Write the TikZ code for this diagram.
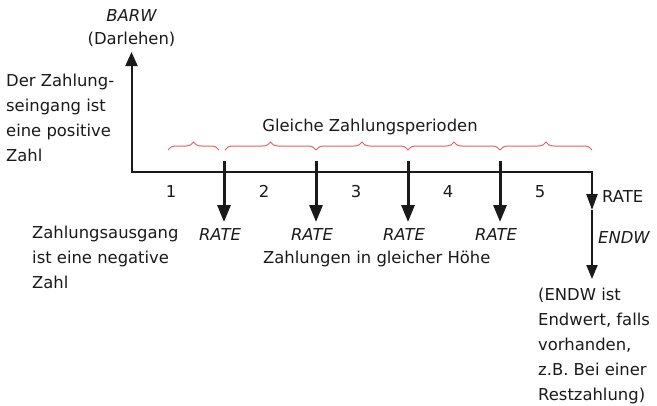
\documentclass[tikz,border=0pt]{standalone}
\usepackage{fontspec}
\setmainfont{DejaVu Sans}
\usetikzlibrary{arrows.meta,decorations.pathreplacing}
\definecolor{inkc}{HTML}{1A1A1A}
\definecolor{bracec}{HTML}{E06060}
\begin{document}
\begin{tikzpicture}[x=1pt,y=-1pt,
  lbl/.style={inner sep=0pt, font=\fontsize{16.4}{24.8}\selectfont, text=inkc, align=left},
  ilbl/.style={lbl, font=\fontsize{16.4}{24.8}\selectfont\itshape},
  axis/.style={draw=inkc, line width=2pt},
  pay/.style={draw=inkc, line width=3pt, -{Triangle[length=17pt,width=13pt]}},
  period/.style={draw=bracec, line width=1pt, decorate, decoration={brace, amplitude=8pt}}
]
\useasboundingbox (0,0) rectangle (657,405);
% axis points
\coordinate (top) at (131.5,52);
\coordinate (org) at (131.5,172);
\coordinate (endp) at (592,172);
\coordinate (rmid) at (592,210);
\coordinate (rend) at (592,279);
\draw[axis, {Triangle[length=14pt,width=12pt]}-{Triangle[length=16pt,width=11pt]}] (top) |- (endp) -- (rmid);
\draw[axis, -{Triangle[length=14pt,width=11pt]}] (rmid) -- (rend);
% payment arrows
\foreach \i/\x in {1/224,2/316,3/408,4/500}{
  \coordinate (p\i s) at (\x,161);
  \coordinate (p\i e) at (\x,222);
  \draw[pay] (p\i s) -- (p\i e);
}
% braces
\foreach \i/\a/\b in {1/168/219,2/225/316,3/316/408,4/408/500,5/500/592}{
  \coordinate (b\i a) at (\a,150);
  \coordinate (b\i b) at (\b,150);
  \draw[period] (b\i a) -- (b\i b);
}
% labels (multi-line nodes: base = baseline of last line)
\node[ilbl, anchor=base] (barw) at (131.5,21) {BARW};
\node[lbl, anchor=base] (darl) at (131.5,44) {(Darlehen)};
\node[lbl, anchor=base west] (pos) at (6,161) {Der Zahlung-\\seingang ist\\eine positive\\Zahl};
\node[lbl, anchor=base] (gleich) at (370,131) {Gleiche Zahlungsperioden};
\foreach \i/\x in {1/171,2/264,3/356,4/448,5/540}{
  \node[lbl, anchor=base] (n\i) at (\x,197) {\i};
}
\node[lbl, anchor=base west] (rate5) at (602,202) {RATE};
\foreach \i/\x in {1/220,2/312,3/404,4/496}{
  \node[ilbl, anchor=base] (r\i) at (\x,240) {RATE};
}
\node[lbl, anchor=base west] (neg) at (32,288) {Zahlungsausgang\\ist eine negative\\Zahl};
\node[lbl, anchor=base west] (gleichh) at (263,263) {Zahlungen in gleicher Höhe};
\node[ilbl, anchor=base west] (endw) at (598,243) {ENDW};
\node[lbl, anchor=base west] (endtxt) at (538,400) {(ENDW ist\\Endwert, falls\\vorhanden,\\z.B. Bei einer\\Restzahlung)};
\end{tikzpicture}
\end{document}
